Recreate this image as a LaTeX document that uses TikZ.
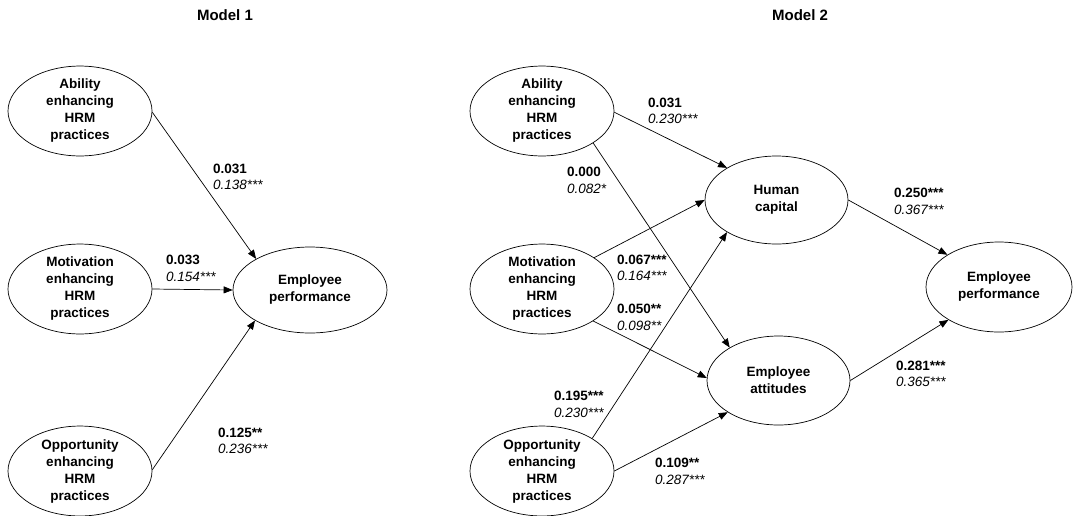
\documentclass[tikz,border=0pt]{standalone}
\usepackage{fontspec}
\setmainfont{Liberation Sans}
\usetikzlibrary{shapes.geometric,arrows.meta}
\begin{document}
\begin{tikzpicture}[x=1pt,y=-1pt,
  construct/.style={ellipse,draw,line width=0.7pt,inner sep=0pt,
    minimum width=144pt,minimum height=88pt,align=center,
    font={\fontsize{13.5}{17}\selectfont\bfseries}},
  title/.style={font={\fontsize{15}{18}\selectfont\bfseries}},
  coef/.style={anchor=west,align=left,inner sep=0pt,
    font={\fontsize{13.5}{16.5}\selectfont}},
  path/.style={line width=0.7pt,-{Triangle[length=9pt,width=7pt]}}]
\useasboundingbox (0,0) rectangle (1073,515);
% Titles
\node[title] (t1) at (225,15.5) {Model 1};
\node[title] (t2) at (800,15.5) {Model 2};
% Model 1
\node[construct] (a1) at (80,111) {Ability\\enhancing\\HRM\\practices};
\node[construct] (m1) at (80,289) {Motivation\\enhancing\\HRM\\practices};
\node[construct] (o1) at (80,471) {Opportunity\\enhancing\\HRM\\practices};
\node[construct,minimum width=154pt,minimum height=86pt] (ep1) at (310,290) {Employee\\performance};
\draw[path] (a1.-1) -- (ep1.150);
\draw[path] (m1.0) -- (ep1.180);
\draw[path] (o1.1) -- (ep1.209);
\node[coef] (l1) at (213,177) {\textbf{0.031}\\\textit{0.138***}};
\node[coef] (l2) at (166,268.5) {\textbf{0.033}\\\textit{0.154***}};
\node[coef] (l3) at (218,441) {\textbf{0.125**}\\\textit{0.236***}};
% Model 2
\node[construct] (a2) at (542,111) {Ability\\enhancing\\HRM\\practices};
\node[construct] (m2) at (542,289) {Motivation\\enhancing\\HRM\\practices};
\node[construct] (o2) at (542,471) {Opportunity\\enhancing\\HRM\\practices};
\node[construct,minimum width=143pt] (hc) at (776.5,200) {Human\\capital};
\node[construct,minimum width=143pt,minimum height=89pt] (ea) at (778.5,380.5) {Employee\\attitudes};
\node[construct,minimum width=146pt,minimum height=90pt] (ep2) at (999,287) {Employee\\performance};
\draw[path] (a2.-1.6) -- (hc.147);
\draw[path] (a2.-32) -- (ea.146);
\draw[path] (m2.31.6) -- (hc.180);
\draw[path] (m2.-32) -- (ea.178.8);
\draw[path] (o2.33) -- (hc.213.7);
\draw[path] (o2.0) -- (ea.212.8);
\draw[path] (hc.0) -- (ep2.148.4);
\draw[path] (ea.0) -- (ep2.213.2);
\node[coef] (k1) at (648,111) {\textbf{0.031}\\\textit{0.230***}};
\node[coef] (k2) at (567,180.5) {\textbf{0.000}\\\textit{0.082*}};
\node[coef] (k3) at (617,268) {\textbf{0.067***}\\\textit{0.164***}};
\node[coef] (k4) at (617,317.5) {\textbf{0.050**}\\\textit{0.098**}};
\node[coef] (k5) at (554,404.5) {\textbf{0.195***}\\\textit{0.230***}};
\node[coef] (k6) at (655,471.5) {\textbf{0.109**}\\\textit{0.287***}};
\node[coef] (k7) at (894,201.5) {\textbf{0.250***}\\\textit{0.367***}};
\node[coef] (k8) at (896,374) {\textbf{0.281***}\\\textit{0.365***}};
\end{tikzpicture}
\end{document}
